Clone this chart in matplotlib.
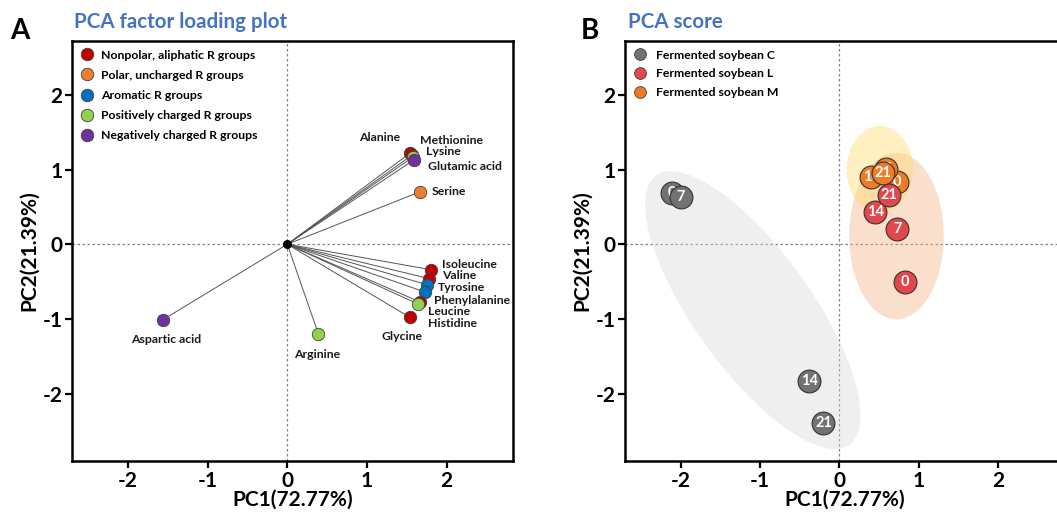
import matplotlib
matplotlib.use("Agg")
import matplotlib.pyplot as plt
from matplotlib.lines import Line2D
from matplotlib.patches import Ellipse

plt.rcParams['font.family'] = ['Lato', 'DejaVu Sans']
plt.rcParams['font.weight'] = 'bold'
plt.rcParams['axes.unicode_minus'] = False

# ---- panel A: factor loadings ----
amino_acids = ['Alanine', 'Methionine', 'Lysine', 'Glutamic acid', 'Serine',
               'Isoleucine', 'Valine', 'Tyrosine', 'Phenylalanine', 'Leucine',
               'Histidine', 'Glycine', 'Arginine', 'Aspartic acid']
pc1_loading = [1.54, 1.56, 1.58, 1.59, 1.66, 1.80, 1.78, 1.75, 1.73, 1.66,
               1.64, 1.54, 0.39, -1.56]
pc2_loading = [1.22, 1.19, 1.17, 1.13, 0.70, -0.34, -0.46, -0.54, -0.64, -0.77,
               -0.80, -0.98, -1.20, -1.01]
aa_group = [0, 0, 3, 4, 1, 0, 0, 2, 2, 0, 3, 0, 3, 4]
group_names = ['Nonpolar, aliphatic R groups', 'Polar, uncharged R groups',
               'Aromatic R groups', 'Positively charged R groups',
               'Negatively charged R groups']

# ---- panel B: scores ----
days = ['0', '7', '14', '21']
c_pc1 = [-2.11, -2.00, -0.38, -0.20]
c_pc2 = [0.69, 0.63, -1.83, -2.39]
l_pc1 = [0.83, 0.73, 0.45, 0.62]
l_pc2 = [-0.50, 0.21, 0.43, 0.66]
m_pc1 = [0.73, 0.40, 0.59, 0.55]
m_pc2 = [0.83, 0.90, 1.01, 0.95]
m_days = ['0', '14', '7', '21']
sample_names = ['Fermented soybean C', 'Fermented soybean L', 'Fermented soybean M']

# confidence ellipses: C, L, M
ell_x = [-1.09, 0.72, 0.51]
ell_y = [-0.88, 0.11, 1.00]
ell_w = [4.35, 1.19, 0.84]
ell_h = [1.51, 2.23, 1.16]
ell_angle = [-56.4, 0, 0]

# styles
group_colors = ['#c00000', '#ed7d31', '#0070c0', '#92d050', '#7030a0']
sample_colors = ['#727272', '#e2474d', '#ef7b25']
ell_colors = ['#d9d9d9', '#f4b183', '#ffd966']
label_pos = {
    'Alanine': (-22, 11, 'center'), 'Methionine': (6, 11, 'left'),
    'Lysine': (9, 4, 'left'), 'Glutamic acid': (10, -5, 'left'),
    'Serine': (9, 0, 'left'), 'Isoleucine': (8, 4, 'left'),
    'Valine': (9, 2, 'left'), 'Tyrosine': (8, -2, 'left'),
    'Phenylalanine': (6, -6, 'left'), 'Leucine': (6, -7, 'left'),
    'Histidine': (7, -14, 'left'), 'Glycine': (-6, -14, 'center'),
    'Arginine': (-1, -15, 'center'), 'Aspartic acid': (2, -14, 'center'),
}


def style_axes(ax):
    ax.set_xlim(-2.7, 2.83)
    ax.set_ylim(-2.9, 2.72)
    ax.set_xticks([-2, -1, 0, 1, 2])
    ax.set_yticks([-2, -1, 0, 1, 2])
    for s in ax.spines.values():
        s.set_linewidth(1.8)
    ax.tick_params(direction='out', length=5, width=1.6, labelsize=15, pad=2)
    ax.axhline(0, color='#808080', ls=(0, (2, 2)), lw=0.9, zorder=0.5)
    ax.axvline(0, color='#808080', ls=(0, (2, 2)), lw=0.9, zorder=0.5)
    ax.set_xlabel('PC1(72.77%)', fontsize=15, fontweight='bold')
    ax.set_ylabel('PC2(21.39%)', fontsize=15, fontweight='bold', va='center')
    ax.xaxis.set_label_coords(0.5, -0.068)
    ax.yaxis.set_label_coords(-0.097, 0.5)


fig = plt.figure(figsize=(10.57, 5.16), dpi=100)
axA = fig.add_axes([0.0681, 0.1066, 0.4172, 0.8140])
axB = fig.add_axes([0.5913, 0.1066, 0.4153, 0.8140])

# panel A
style_axes(axA)
for i, name in enumerate(amino_acids):
    x, y = pc1_loading[i], pc2_loading[i]
    axA.plot([0, x], [0, y], color='#555555', lw=0.7, zorder=2)
for i, name in enumerate(amino_acids):
    x, y = pc1_loading[i], pc2_loading[i]
    axA.scatter(x, y, s=80, color=group_colors[aa_group[i]],
                edgecolor='#404040', linewidth=0.6, zorder=3 + i * 0.01)
    dx, dy, ha = label_pos[name]
    axA.annotate(name, (x, y), xytext=(dx, dy), textcoords='offset points',
                 ha=ha, va='center', fontsize=8.8, fontweight='bold', color='#1a1a1a')
axA.scatter(0, 0, s=30, color='black', zorder=5)
handlesA = [Line2D([], [], marker='o', ls='', markerfacecolor=c,
                   markeredgecolor='#404040', markeredgewidth=0.6, markersize=9)
            for c in group_colors]
axA.legend(handlesA, group_names, loc='upper left', frameon=False, fontsize=8.8,
           handlelength=1.0, handletextpad=0.7, borderaxespad=0.3,
           labelspacing=0.75)

# panel B
style_axes(axB)
for i in range(3):
    axB.add_patch(Ellipse((ell_x[i], ell_y[i]), ell_w[i], ell_h[i],
                          angle=ell_angle[i], facecolor=ell_colors[i],
                          edgecolor='none', alpha=0.4, zorder=1))

z = 3
for xs, ys, labels, col in [(c_pc1, c_pc2, days, sample_colors[0]),
                            (m_pc1, m_pc2, m_days, sample_colors[2]),
                            (l_pc1, l_pc2, days, sample_colors[1])]:
    for x, y, lab in zip(xs, ys, labels):
        axB.scatter(x, y, s=270, color=col, edgecolor='#333333',
                    linewidth=0.8, zorder=z)
        axB.text(x, y, lab, ha='center', va='center', color='white',
                 fontsize=10.5, fontweight='bold', zorder=z + 0.5)
        z += 1

handlesB = [Line2D([], [], marker='o', ls='', markerfacecolor=c,
                   markeredgecolor='#404040', markeredgewidth=0.6, markersize=8.5)
            for c in sample_colors]
axB.legend(handlesB, sample_names, loc='upper left', frameon=False, fontsize=8.8,
           handlelength=1.0, handletextpad=0.8, borderaxespad=0.3,
           labelspacing=0.65)

# panel letters and titles
fig.text(0.010, 0.924, 'A', fontsize=20, fontweight='bold', va='baseline')
fig.text(0.070, 0.946, 'PCA factor loading plot', fontsize=14.8,
         fontweight='bold', color='#4472c4', va='baseline')
fig.text(0.549, 0.924, 'B', fontsize=20, fontweight='bold', va='baseline')
fig.text(0.594, 0.946, 'PCA score', fontsize=14.8,
         fontweight='bold', color='#4472c4', va='baseline')

fig.savefig('out.png', dpi=100)
